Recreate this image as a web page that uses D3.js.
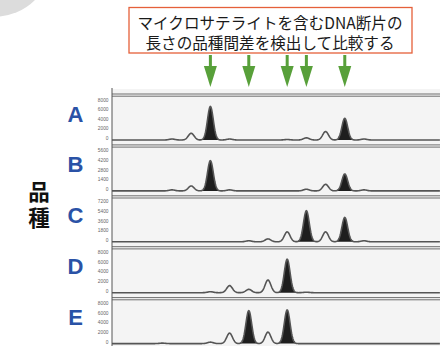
<!DOCTYPE html>
<html><head><meta charset="utf-8">
<script src="https://cdn.jsdelivr.net/npm/d3@7"></script>
<style>html,body{margin:0;padding:0;background:#fff;}svg{display:block;}</style>
</head><body>
<svg id="chart" width="440" height="346"></svg>
<script>
// ---- data ----
const varieties = ["A", "B", "C", "D", "E"];
const tickMax = [8000, 5600, 7200, 8000, 8000];
// peaks: [fragment size (bp), signal height]
const peaksA = [[170,200],[172,1400],[174,6950],[176,200],[182,100],[184,450],[186,1750],[188,4500],[190,200]];
const peaksB = [[170,150],[172,720],[174,4400],[176,150],[184,240],[186,960],[188,2460],[190,150]];
const peaksC = [[178,190],[180,540],[182,1850],[184,5800],[186,1850],[188,4550],[190,190]];
const peaksD = [[174,200],[176,1470],[178,700],[180,2630],[182,6950],[184,100]];
const peaksE = [[169,100],[174,300],[176,2170],[178,6850],[180,2380],[182,7000]];
const allelesA = [174, 188];
const allelesB = [174, 188];
const allelesC = [184, 188];
const allelesD = [182];
const allelesE = [178, 182];
const markerBp = [174, 178, 182, 184, 188];
const titleLines = ["マイクロサテライトを含むDNA断片の", "長さの品種間差を検出して比較する"];
const sideLabel = "品種";

const peaks = [peaksA, peaksB, peaksC, peaksD, peaksE];
const alleles = [allelesA, allelesB, allelesC, allelesD, allelesE];

// ---- layout ----
const svg = d3.select("#chart");
const axisX = 112, rightX = 440;
const x = d3.scaleLinear().domain([163.75, 197.92]).range([axisX, rightX]);
const panelTop = i => 94 + 50.9 * i;
const sigma = 0.3;

// grey circle top-left
svg.append("circle").attr("cx", -5).attr("cy", -40).attr("r", 56.6).attr("fill", "#dcdcdc");

// title box
svg.append("rect").attr("x", 129).attr("y", 7.5).attr("width", 283).attr("height", 45.5)
  .attr("fill", "#fff").attr("stroke", "#e5603a").attr("stroke-width", 1.3);
svg.selectAll("text.title").data(titleLines).join("text")
  .attr("class", "title")
  .attr("x", 270).attr("y", (d, i) => 29 + i * 20)
  .attr("text-anchor", "middle")
  .attr("font-family", "'Noto Sans CJK JP', sans-serif")
  .attr("font-size", 15.6).attr("fill", "#1a1a1a")
  .text(d => d);

// green arrows
const arrowG = svg.append("g").attr("fill", "#58a03a");
markerBp.forEach(bp => {
  const cx = x(bp);
  arrowG.append("rect").attr("x", cx - 1.5).attr("y", 55).attr("width", 3).attr("height", 13);
  arrowG.append("path").attr("d", `M${cx - 6.5},66 L${cx + 6.5},66 L${cx},87 Z`);
});

// plot background
svg.append("rect").attr("x", axisX).attr("y", 89).attr("width", rightX - axisX).attr("height", 346 - 89)
  .attr("fill", "#f4f4f4");

// side label (vertical)
svg.append("text")
  .attr("x", 39).attr("y", 181.5)
  .attr("writing-mode", "vertical-rl")
  .attr("letter-spacing", 4)
  .attr("font-family", "'Noto Sans CJK JP', sans-serif")
  .attr("font-weight", "bold").attr("font-size", 21.5).attr("fill", "#111")
  .text(sideLabel);

const xs = d3.range(163.75, 197.93, 0.04);
function signal(list, b) {
  let s = 0;
  list.forEach(([p, h]) => { s += h * Math.exp(-((b - p) * (b - p)) / (2 * sigma * sigma)); });
  return s;
}

varieties.forEach((name, i) => {
  const top = panelTop(i);
  const y = d3.scaleLinear().domain([0, tickMax[i]]).range([top + 46, top + 7.5]);
  const g = svg.append("g");

  // top double border
  [top, top + 2.2].forEach(yy => g.append("line").attr("x1", axisX).attr("x2", rightX)
    .attr("y1", yy).attr("y2", yy).attr("stroke", "#6e6e6e").attr("stroke-width", 1));

  // y axis ticks
  const ticks = d3.range(0, tickMax[i] + 1, tickMax[i] / 4);
  g.selectAll("text.tick").data(ticks).join("text")
    .attr("class", "tick")
    .attr("x", 108.5).attr("y", d => y(d) - 1.5)
    .attr("text-anchor", "end").attr("dominant-baseline", "central")
    .attr("font-family", "Arial, 'Liberation Sans', sans-serif")
    .attr("font-size", 4.8).attr("fill", "#666")
    .text(d => d);

  const pts = xs.map(b => [b, signal(peaks[i], b)]);

  // filled allele peaks
  alleles[i].forEach(a => {
    const seg = pts.filter(p => Math.abs(p[0] - a) <= 0.95);
    g.append("path").datum(seg)
      .attr("d", d3.area().x(p => x(p[0])).y0(y(0)).y1(p => y(p[1])))
      .attr("fill", "#1e1e1e");
  });

  // trace
  g.append("path").datum(pts)
    .attr("d", d3.line().x(p => x(p[0])).y(p => y(p[1])))
    .attr("fill", "none").attr("stroke", "#555").attr("stroke-width", 1.6);

  // variety letter
  svg.append("text")
    .attr("x", 75.5).attr("y", top + 20)
    .attr("text-anchor", "middle").attr("dominant-baseline", "central")
    .attr("font-family", "'Liberation Sans', Arial, sans-serif")
    .attr("font-weight", "bold").attr("font-size", 22).attr("fill", "#2a52a6")
    .text(name);
});

// vertical axis
svg.append("line").attr("x1", axisX).attr("x2", axisX).attr("y1", 88).attr("y2", 346)
  .attr("stroke", "#555").attr("stroke-width", 1);
</script>
</body></html>
